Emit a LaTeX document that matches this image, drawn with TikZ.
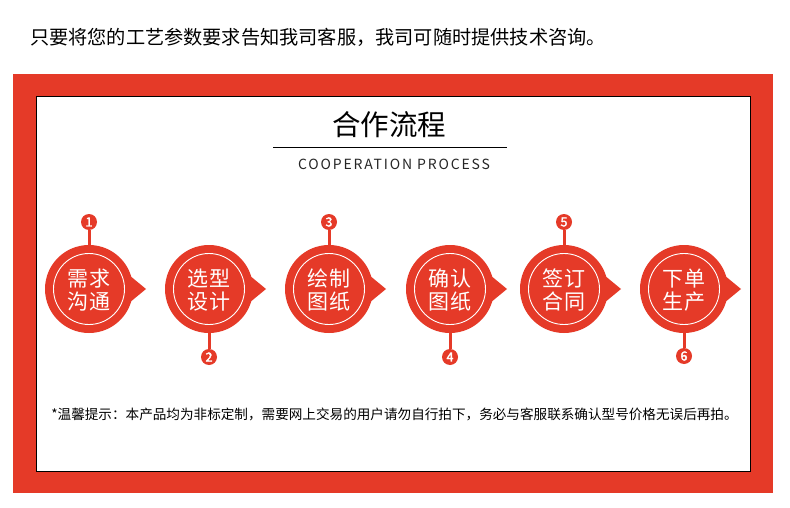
\documentclass[tikz,border=0pt]{standalone}
\usepackage{fontspec}
\setmainfont{Noto Sans CJK SC}
\definecolor{myred}{HTML}{E53A28}
\tikzset{
  bigdisc/.style={circle, fill=myred, minimum size=88pt, inner sep=0pt},
  ringline/.style={circle, draw=white, line width=0.9pt, minimum size=71pt, inner sep=0pt},
  steptext/.style={text=white, align=center, inner sep=0pt, font=\fontsize{21}{23}\selectfont\addfontfeature{LetterSpace=4}},
  pindisc/.style={circle, fill=myred, minimum size=16pt, inner sep=0pt, text=white, font=\fontsize{12.5}{12.5}\selectfont\addfontfeature{FakeBold=2.5}},
  stemline/.style={myred, line width=3pt},
}
\begin{document}
\begin{tikzpicture}[x=1pt,y=-1pt]
\useasboundingbox (0,0) rectangle (790,508);
\fill[white] (0,0) rectangle (790,508);
\node[font=\fontsize{19.2}{22}\selectfont, inner sep=0pt] (hdr) at (318,37) {只要将您的工艺参数要求告知我司客服，我司可随时提供技术咨询。};
\fill[myred] (13,74) rectangle (773,493);
\draw[fill=white, line width=1pt] (36,97) rectangle (750,471);
\node[font=\fontsize{28.5}{30}\selectfont, inner sep=0pt] (title) at (389,125) {合作流程};
\coordinate (ruleL) at (273,147);
\coordinate (ruleR) at (507,147);
\draw[line width=0.8pt] (ruleL) -- (ruleR);
\node[font=\fontsize{14}{16}\selectfont\addfontfeature{LetterSpace=13}, inner sep=0pt, text=black!85] (sub) at (394,164) {COOPERATION PROCESS};
\foreach \cx/\ta/\tb/\num/\py in {89/需求/沟通/1/222, 209/选型/设计/2/357, 329/绘制/图纸/3/222, 450/确认/图纸/4/357, 564/签订/合同/5/222, 684/下单/生产/6/356}{
  \fill[myred] (\cx+40,275) -- (\cx+57,289) -- (\cx+40,303) -- cycle;
  \node[bigdisc] (c\num) at (\cx,289) {};
  \node[ringline] (r\num) at (\cx,289) {};
  \node[steptext] (t\num) at (\cx,290) {\ta\\\tb};
  \node[pindisc] (p\num) at (\cx,\py) {\num};
  \draw[stemline] (p\num) -- (c\num);
}
\node[font=\fontsize{13.6}{15}\selectfont, inner sep=0pt] (note) at (394.5,414) {*温馨提示：本产品均为非标定制，需要网上交易的用户请勿自行拍下，务必与客服联系确认型号价格无误后再拍。};
\end{tikzpicture}
\end{document}
